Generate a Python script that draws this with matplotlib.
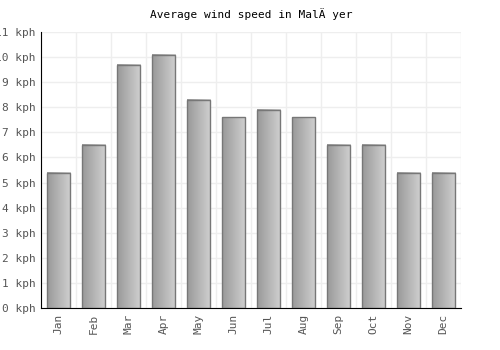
import matplotlib
matplotlib.use("Agg")
import matplotlib.pyplot as plt
import numpy as np

months = ["Jan", "Feb", "Mar", "Apr", "May", "Jun", "Jul", "Aug", "Sep", "Oct", "Nov", "Dec"]
wind_kph = [5.4, 6.5, 9.7, 10.1, 8.3, 7.6, 7.9, 7.6, 6.5, 6.5, 5.4, 5.4]
yticks = list(range(0, 12))
title = "Average wind speed in MalÄ yer"

plt.rcParams['font.family'] = ['DejaVu Sans Mono']
fig = plt.figure(figsize=(5, 3.5), dpi=100)
ax = fig.add_axes([0.082, 0.12, 0.84, 0.7886])

x = np.arange(len(months))
width = 0.66
grad = np.linspace(0, 1, 64).reshape(1, -1)
from matplotlib.colors import LinearSegmentedColormap
cmap = LinearSegmentedColormap.from_list("g", ["#999999", "#d0d0d0"])
for xi, v in zip(x, wind_kph):
    ax.imshow(grad, extent=[xi - width / 2, xi + width / 2, 0, v], aspect='auto',
              cmap=cmap, zorder=2, interpolation='bicubic')
ax.bar(x, wind_kph, width=width, facecolor='none', edgecolor='#777777', linewidth=1, zorder=3)

ax.set_xlim(-0.5, len(months) - 0.5)
ax.set_ylim(0, 11)
ax.set_yticks(yticks)
ax.set_yticklabels([f"{t} kph" for t in yticks])
ax.set_xticks(x)
ax.set_xticklabels(months, rotation=90)
ax.set_xticks(np.arange(-0.5, len(months), 1), minor=True)
ax.grid(False)
ax.grid(which='minor', axis='x', color='#eeeeee', linewidth=1, zorder=0)
ax.grid(which='major', axis='y', color='#eeeeee', linewidth=1, zorder=0)
ax.set_axisbelow(True)
ax.tick_params(axis='both', which='both', length=0, labelsize=8, labelcolor='#555555', pad=4)
for s in ['top', 'right']:
    ax.spines[s].set_visible(False)
ax.spines['left'].set_color('black')
ax.spines['bottom'].set_color('black')
ax.set_title(title, fontsize=8, pad=10)

fig.savefig("out.png", dpi=100)
